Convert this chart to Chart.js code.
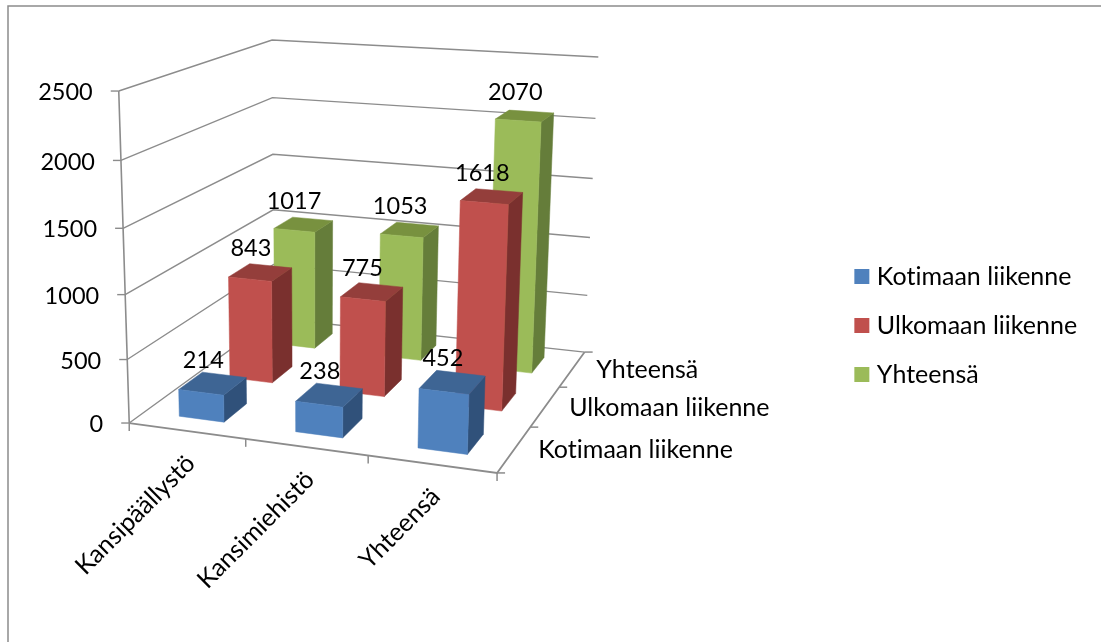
<!DOCTYPE html>
<html>
<head>
<meta charset="utf-8">
<title>Kansihenkilöstö</title>
<script src="https://cdn.jsdelivr.net/npm/chart.js@4/dist/chart.umd.min.js"></script>
<style>
html,body{margin:0;padding:0;background:#fff}
canvas{display:block}
</style>
</head>
<body>
<canvas id="c" width="1101" height="642"></canvas>
<script>
// Crew categories, traffic series and values
const categories = ['Kansipäällystö', 'Kansimiehistö', 'Yhteensä'];
const seriesNames = ['Kotimaan liikenne', 'Ulkomaan liikenne', 'Yhteensä'];
const domesticValues = [214, 238, 452];
const foreignValues = [843, 775, 1618];
const totalValues = [1017, 1053, 2070];
const valueTicksMax = 2500;
const valueTicksStep = 500;

// Face colours of each series: front, top, side
const frontColors = ['#4F81BD', '#3E6594', '#30517A'];
const redShades = ['#C0504D', '#943E3B', '#7A302E'];
const greenShades = ['#9BBB59', '#78913F', '#657D3A'];
const seriesShades = [frontColors, redShades, greenShades];

// Where the corners of the 3D plot box land on the canvas: [u, v, w, px, py]
const boxCorners = [
  [0, 0, 0, 130, 423],
  [1, 0, 0, 497, 473],
  [1, 1, 0, 585, 352],
  [0, 1, 0, 273, 318],
  [0, 0, 1, 118, 91],
  [0, 1, 1, 273, 40],
  [1, 1, 1, 598, 57]
];

const FONT = '"Lato", "Carlito", sans-serif';
const NAME_SIZE = 25;
const NUMBER_SIZE = 23.5;
const BAR_FRACTION = 0.39;
const DEPTH_FRACTION = 0.45;
const AXIS_COLOR = '#8C8C8C';

// Least-squares fit of a 3x4 projective camera from the corner pairs
function fitCamera(points) {
  const rows = [], rhs = [];
  for (const [X, Y, Z, x, y] of points) {
    rows.push([X, Y, Z, 1, 0, 0, 0, 0, -x * X, -x * Y, -x * Z]); rhs.push(x);
    rows.push([0, 0, 0, 0, X, Y, Z, 1, -y * X, -y * Y, -y * Z]); rhs.push(y);
  }
  const n = 11;
  const A = Array.from({length: n}, () => new Array(n + 1).fill(0));
  rows.forEach((r, k) => {
    for (let i = 0; i < n; i++) {
      for (let j = 0; j < n; j++) A[i][j] += r[i] * r[j];
      A[i][n] += r[i] * rhs[k];
    }
  });
  for (let i = 0; i < n; i++) A[i][i] += 1e-9;
  for (let i = 0; i < n; i++) {
    let best = i;
    for (let r = i + 1; r < n; r++) if (Math.abs(A[r][i]) > Math.abs(A[best][i])) best = r;
    [A[i], A[best]] = [A[best], A[i]];
    for (let r = 0; r < n; r++) {
      if (r === i) continue;
      const f = A[r][i] / A[i][i];
      for (let c = i; c <= n; c++) A[r][c] -= f * A[i][c];
    }
  }
  return A.map((row, i) => row[n] / row[i]);
}
const cam = fitCamera(boxCorners);
function project(u, v, w) {
  const d = cam[8] * u + cam[9] * v + cam[10] * w + 1;
  return [
    (cam[0] * u + cam[1] * v + cam[2] * w + cam[3]) / d,
    (cam[4] * u + cam[5] * v + cam[6] * w + cam[7]) / d
  ];
}

function polyline(ctx, pts, color, width) {
  ctx.beginPath();
  pts.forEach((p, i) => i ? ctx.lineTo(p[0], p[1]) : ctx.moveTo(p[0], p[1]));
  ctx.strokeStyle = color;
  ctx.lineWidth = width;
  ctx.stroke();
}
function face(ctx, pts, color) {
  ctx.beginPath();
  pts.forEach((p, i) => i ? ctx.lineTo(p[0], p[1]) : ctx.moveTo(p[0], p[1]));
  ctx.closePath();
  ctx.fillStyle = color;
  ctx.fill();
  ctx.strokeStyle = color;
  ctx.lineWidth = 0.5;
  ctx.stroke();
}

// Renders walls, floor, axes and the bars as boxes, all projected from scale positions
const plotBox3d = {
  id: 'plotBox3d',
  beforeDraw(chart) {
    // a tiny spacing keeps Lato from forming "ti" ligatures
    chart.ctx.letterSpacing = '0.01px';
  },
  beforeDatasetsDraw(chart) {
    const {ctx, scales: {x, y, depth}} = chart;
    const uOf = px => (px - x.left) / x.width;
    const vOf = px => (px - depth.left) / depth.width;
    const wOf = py => (y.bottom - py) / y.height;
    const vTick = 1 / seriesNames.length, uTick = 1 / categories.length;

    ctx.save();
    // outer frame
    polyline(ctx, [[8, 642], [8, 6], [1101, 6]], '#8C8C8C', 1.5);

    // value grid on the two back walls
    y.ticks.forEach(t => {
      const w = wOf(y.getPixelForValue(t.value));
      polyline(ctx, [project(0, 0, w), project(0, 1, w), project(1, 1, w)], AXIS_COLOR, 1.4);
      const p = project(0, 0, w);
      polyline(ctx, [[p[0] - 8, p[1]], p], AXIS_COLOR, 1.4);
    });
    // value axis and floor outline
    polyline(ctx, [project(0, 0, 0), project(0, 0, 1)], AXIS_COLOR, 1.6);
    polyline(ctx, [project(0, 0, 0), project(1, 0, 0), project(1, 1, 0)], AXIS_COLOR, 1.8);
    // category and series tick marks
    for (let i = 0; i <= categories.length; i++) {
      const p = project(i * uTick, 0, 0);
      polyline(ctx, [p, [p[0], p[1] + 8]], AXIS_COLOR, 1.5);
    }
    for (let i = 0; i <= seriesNames.length; i++) {
      const p = project(1, i * vTick, 0);
      polyline(ctx, [p, [p[0] + 8, p[1]]], AXIS_COLOR, 1.5);
    }

    // bars, deepest series first
    const labels = [];
    for (let d = chart.data.datasets.length - 1; d >= 0; d--) {
      const [front, top, side] = seriesShades[d];
      const vc = vOf(depth.getPixelForValue(d));
      const hd = DEPTH_FRACTION * vTick / 2;
      chart.getDatasetMeta(d).data.forEach((bar, i) => {
        const u0 = uOf(bar.x - bar.width / 2), u1 = uOf(bar.x + bar.width / 2);
        const v0 = vc - hd, v1 = vc + hd;
        const wt = wOf(bar.y), wb = wOf(bar.base);
        face(ctx, [project(u1, v0, wb), project(u1, v1, wb), project(u1, v1, wt), project(u1, v0, wt)], side);
        face(ctx, [project(u0, v0, wt), project(u1, v0, wt), project(u1, v1, wt), project(u0, v1, wt)], top);
        face(ctx, [project(u0, v0, wb), project(u1, v0, wb), project(u1, v0, wt), project(u0, v0, wt)], front);
        const c = project(uOf(bar.x), vc, wt);
        labels.push([String(chart.data.datasets[d].data[i]), c[0] - 9.5, c[1] - 23.5]);
      });
    }

    // numbers
    ctx.fillStyle = '#000';
    ctx.font = NUMBER_SIZE + 'px ' + FONT;
    ctx.textBaseline = 'middle';
    ctx.textAlign = 'center';
    labels.forEach(([s, lx, ly]) => ctx.fillText(s, lx, ly));

    ctx.textAlign = 'right';
    y.ticks.forEach(t => {
      const p = project(0, 0, wOf(y.getPixelForValue(t.value)));
      ctx.fillText(String(t.value), p[0] - 26, p[1] + 1.5);
    });

    // category and series names
    ctx.font = NAME_SIZE + 'px ' + FONT;
    ctx.textAlign = 'left';
    depth.getLabels().forEach((name, i) => {
      const p = project(1, vOf(depth.getPixelForValue(i)), 0);
      ctx.fillText(name, p[0] + 24, p[1] + 1);
    });

    ctx.textAlign = 'right';
    x.getLabels().forEach((name, i) => {
      const p = project(uOf(x.getPixelForValue(i)), 0, 0);
      ctx.save();
      ctx.translate(p[0] + 4, p[1] + 28.5);
      ctx.rotate(-Math.PI / 4);
      ctx.fillText(name, 0, 0);
      ctx.restore();
    });
    ctx.restore();
    return false;
  }
};

new Chart(document.getElementById('c'), {
  type: 'bar',
  data: {
    labels: categories,
    datasets: [
      {label: seriesNames[0], data: domesticValues, backgroundColor: frontColors[0]},
      {label: seriesNames[1], data: foreignValues, backgroundColor: redShades[0]},
      {label: seriesNames[2], data: totalValues, backgroundColor: greenShades[0]}
    ]
  },
  options: {
    responsive: false,
    animation: false,
    devicePixelRatio: 1,
    layout: {padding: {top: 9, right: 14, left: 0, bottom: 0}},
    datasets: {bar: {grouped: false, categoryPercentage: 1, barPercentage: BAR_FRACTION, borderWidth: 0}},
    scales: {
      x: {display: false, type: 'category'},
      depth: {display: false, type: 'category', axis: 'x', labels: seriesNames},
      y: {display: false, min: 0, max: valueTicksMax, ticks: {stepSize: valueTicksStep}}
    },
    plugins: {
      tooltip: {enabled: false},
      title: {display: false},
      legend: {
        display: true,
        position: 'right',
        labels: {
          font: {family: FONT, size: NAME_SIZE},
          color: '#000',
          usePointStyle: true,
          pointStyle: 'rect',
          boxWidth: 5,
          boxHeight: 15,
          padding: 24
        }
      }
    }
  },
  plugins: [plotBox3d]
});
</script>
</body>
</html>
